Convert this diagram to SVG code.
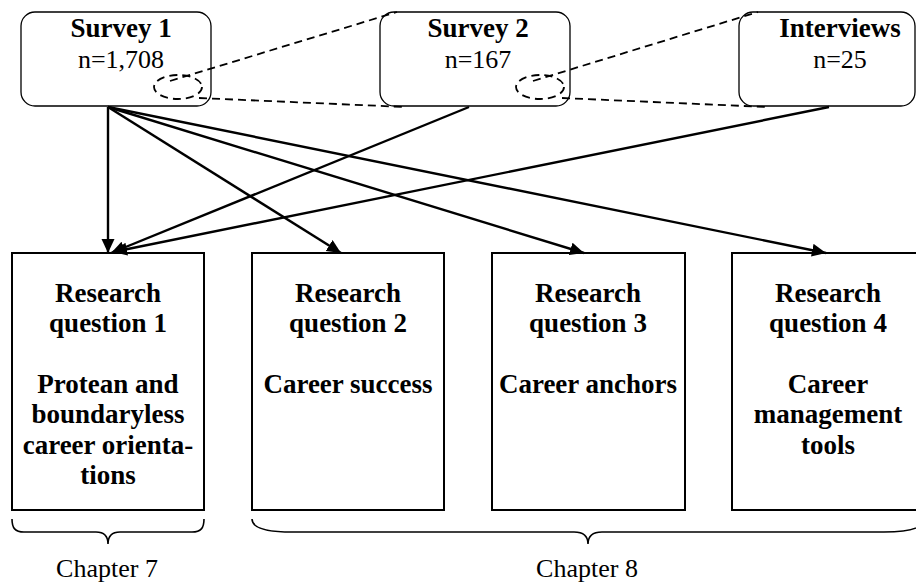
<svg xmlns="http://www.w3.org/2000/svg" width="916" height="582" viewBox="0 0 916 582">
<defs>
<marker id="ah" markerUnits="userSpaceOnUse" markerWidth="16" markerHeight="14" refX="14" refY="6.5" orient="auto">
<path d="M0,0 L14,6.5 L0,13 z" fill="#000"/>
</marker>
</defs>
<style>
.src{fill:#fff;stroke:#000;stroke-width:1.3}
.rq{fill:#fff;stroke:#000;stroke-width:2}
.b{font-family:"Liberation Serif","Times New Roman",serif;font-size:27px;font-weight:bold;text-anchor:middle;fill:#000}
.r{font-family:"Liberation Serif","Times New Roman",serif;font-size:26px;text-anchor:middle;fill:#000}
.dash{fill:none;stroke:#000;stroke-width:1.8;stroke-dasharray:8,5}
.arr{fill:none;stroke:#000;stroke-width:2.4;marker-end:url(#ah)}
.brace{fill:none;stroke:#000;stroke-width:1.6}
</style>
<rect width="916" height="582" fill="#fff"/>

<g id="survey1">
<rect class="src" x="21" y="12" width="190" height="94" rx="14"/>
<text class="b" x="121" y="37">Survey 1</text>
<text class="r" x="121" y="68">n=1,708</text>
</g>
<g id="survey2">
<rect class="src" x="380" y="12" width="190" height="94" rx="14"/>
<text class="b" x="478" y="37">Survey 2</text>
<text class="r" x="478" y="68">n=167</text>
</g>
<g id="interviews">
<rect class="src" x="739" y="12" width="176" height="94" rx="14"/>
<text class="b" x="840" y="37">Interviews</text>
<text class="r" x="840" y="68">n=25</text>
</g>

<g id="zoom-marks">
<ellipse class="dash" cx="178" cy="87" rx="24" ry="12"/>
<line class="dash" x1="170" y1="81" x2="397" y2="12"/>
<line class="dash" x1="199" y1="98" x2="405" y2="107"/>
<ellipse class="dash" cx="540" cy="87" rx="24" ry="12"/>
<line class="dash" x1="533" y1="81" x2="758" y2="12"/>
<line class="dash" x1="562" y1="98" x2="767" y2="107"/>
</g>

<g id="rq1">
<rect class="rq" x="12" y="253" width="192" height="257"/>
<text class="b" x="108" y="302">Research</text>
<text class="b" x="108" y="332">question 1</text>
<text class="b" x="108" y="393">Protean and</text>
<text class="b" x="108" y="423">boundaryless</text>
<text class="b" x="108" y="454">career orienta-</text>
<text class="b" x="108" y="484">tions</text>
</g>
<g id="rq2">
<rect class="rq" x="252" y="253" width="192" height="257"/>
<text class="b" x="348" y="302">Research</text>
<text class="b" x="348" y="332">question 2</text>
<text class="b" x="348" y="393">Career success</text>
</g>
<g id="rq3">
<rect class="rq" x="492" y="253" width="193" height="257"/>
<text class="b" x="588" y="302">Research</text>
<text class="b" x="588" y="332">question 3</text>
<text class="b" x="588" y="393">Career anchors</text>
</g>
<g id="rq4">
<rect class="rq" x="732" y="253" width="192" height="257"/>
<text class="b" x="828" y="302">Research</text>
<text class="b" x="828" y="332">question 4</text>
<text class="b" x="828" y="393">Career</text>
<text class="b" x="828" y="423">management</text>
<text class="b" x="828" y="454">tools</text>
</g>

<g id="connectors">
<line class="arr" x1="108" y1="107" x2="108" y2="253"/>
<line class="arr" x1="108" y1="107" x2="341" y2="253"/>
<line class="arr" x1="108" y1="107" x2="584" y2="253"/>
<line class="arr" x1="108" y1="107" x2="826" y2="253"/>
<line class="arr" x1="469" y1="107" x2="111" y2="253"/>
<line class="arr" x1="829" y1="107" x2="113" y2="252"/>
</g>

<g id="chapter7">
<path class="brace" d="M12,519 C12,528 15,532 24,532 L96,532 C104,532 108,536 108,544 C108,536 112,532 120,532 L192,532 C201,532 204,528 204,519"/>
<text class="r" x="107" y="577">Chapter 7</text>
</g>
<g id="chapter8">
<path class="brace" d="M252,519 C252,528 265,532 292,532 L574,532 C584,532 588,536 588,544 C588,536 592,532 602,532 L884,532 C911,532 924,528 924,519"/>
<text class="r" x="587" y="577">Chapter 8</text>
</g>
</svg>
